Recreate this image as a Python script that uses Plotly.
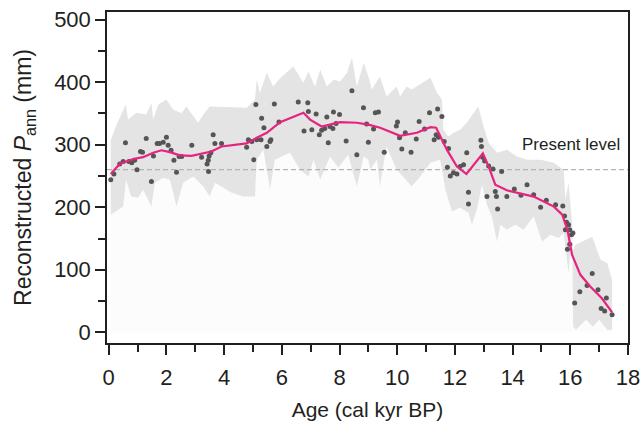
import plotly.graph_objects as go

# Scatter samples (age kyr BP, reconstructed Pann mm)
pt_age = [0.07,0.18,0.38,0.50,0.58,0.70,0.80,0.90,0.98,1.10,1.17,1.30,1.48,1.55,1.68,1.76,1.89,2.00,2.06,2.16,
          2.26,2.35,2.44,2.53,2.88,3.22,3.41,3.45,3.48,3.46,3.54,3.62,3.68,3.91,4.78,4.84,4.96,5.03,5.10,5.13,
          5.28,5.30,5.38,5.48,5.59,5.62,5.74,5.90,6.57,6.77,6.90,6.92,7.04,7.19,7.30,7.38,7.49,7.56,7.61,7.67,
          7.77,7.79,7.88,8.00,8.23,8.43,8.60,8.83,8.94,9.00,9.18,9.24,9.35,9.55,9.97,10.01,10.08,10.16,10.28,10.48,
          10.66,10.76,10.95,11.12,11.28,11.35,11.40,11.43,11.55,11.63,11.74,11.78,11.84,11.95,12.07,12.18,12.30,12.41,12.47,12.47,
          12.90,12.92,12.96,13.03,13.11,13.17,13.32,13.40,13.44,13.48,13.62,13.80,14.06,14.29,14.50,14.73,14.97,15.17,15.49,15.74,
          15.80,15.87,15.94,15.83,15.98,16.04,16.09,15.90,15.98,16.15,16.33,16.58,16.76,16.96,17.07,17.19,17.25,17.45]
pt_pann = [244,253,269,273,303,273,271,275,260,289,288,310,241,282,302,302,304,312,299,291,
           275,256,281,281,299,280,269,275,282,257,287,316,302,302,296,308,305,276,364,308,
           308,342,327,297,305,308,365,336,368,322,367,353,324,349,316,323,326,344,303,329,
           326,352,334,348,306,386,284,359,333,304,325,351,352,288,330,336,311,293,319,288,
           309,337,325,351,308,316,357,312,345,305,264,294,250,255,253,265,268,287,224,205,
           307,297,280,274,217,266,261,225,217,197,257,217,229,219,236,220,200,211,204,202,
           186,176,172,164,164,156,159,133,141,47,65,75,94,68,38,34,55,28]

# Smoothed curve
fit_age = [0.07,0.38,0.85,1.19,1.54,1.83,2.12,2.47,2.87,3.22,3.56,3.91,4.78,5.13,5.48,5.94,6.40,6.75,6.98,7.09,
           7.38,8.02,8.60,9.00,9.41,10.10,10.68,11.15,11.35,11.72,12.07,12.40,12.72,12.97,13.17,13.40,13.80,14.73,15.43,15.72,
           15.90,16.06,16.35,16.70,17.10,17.45]
fit_pann = [253,269,277,280,287,291,288,283,282,285,289,297,302,311,319,336,345,351,340,337,
            329,336,335,332,327,314,319,328,327,292,265,253,271,286,265,236,227,217,201,188,
            164,124,92,73,54,32]

# Uncertainty band
up_age = [0.07,0.27,0.59,0.67,0.96,1.30,1.48,1.54,1.72,2.00,2.23,2.52,2.69,3.10,3.28,3.50,4.78,5.07,5.13,5.24,
          5.48,5.70,5.94,6.40,6.75,6.92,7.15,7.33,7.56,7.80,8.02,8.26,8.43,8.60,8.84,9.00,9.12,9.40,9.63,9.98,
          10.10,10.33,10.50,10.85,11.15,11.38,11.55,11.60,11.77,11.95,12.18,12.41,12.64,12.81,12.99,13.17,13.46,13.80,14.15,14.50,
          14.97,15.43,15.77,15.83,15.94,16.06,16.10,16.18,16.76,17.05,17.28,17.45]
up_pann = [307,332,364,340,351,348,366,340,364,372,356,350,361,335,348,361,359,372,404,383,
           415,393,406,425,399,417,393,420,393,404,401,415,439,393,431,409,388,409,377,393,
           377,393,388,399,407,383,372,324,313,319,324,335,351,361,329,303,287,292,281,276,
           276,271,260,212,239,175,132,140,153,116,111,84]
lo_age = [0.07,0.50,0.60,0.78,1.02,1.19,1.37,1.48,1.60,1.89,2.12,2.35,2.58,2.93,3.28,3.50,3.68,3.97,4.26,4.66,
          5.07,5.13,5.36,5.59,5.76,5.94,6.28,6.63,6.92,7.10,7.33,7.67,7.96,8.30,8.60,8.84,9.00,9.06,9.30,9.40,
          9.63,9.98,10.20,10.50,10.80,11.15,11.49,11.67,11.77,11.90,12.18,12.47,12.59,12.76,12.94,13.11,13.28,13.46,13.58,13.80,
          14.10,14.38,14.73,15.02,15.31,15.60,15.77,15.94,16.06,16.10,16.20,16.55,16.78,17.00,17.28,17.45]
lo_pann = [188,201,244,217,215,228,212,201,239,247,244,201,239,249,233,217,239,231,223,217,
           217,276,292,228,276,279,287,260,249,276,244,281,263,284,233,281,276,260,276,233,
           297,260,249,233,249,271,276,228,215,193,199,191,172,196,236,204,185,145,172,164,
           172,164,185,145,156,151,159,95,164,9,4,20,9,20,4,4]

present_level = 260
x_ticks = [0, 2, 4, 6, 8, 10, 12, 14, 16, 18]
y_ticks = [0, 100, 200, 300, 400, 500]

ink = "#231f20"
font_fam = "Liberation Sans, Arial"
fig = go.Figure()

fig.add_trace(go.Scatter(x=lo_age, y=lo_pann, mode="lines", line=dict(width=0),
                         fill="tozeroy", fillcolor="#fcfcfc", hoverinfo="skip", showlegend=False))
fig.add_trace(go.Scatter(x=up_age + lo_age[::-1], y=up_pann + lo_pann[::-1], mode="lines",
                         line=dict(width=0), fill="toself", fillcolor="#e4e4e4",
                         hoverinfo="skip", showlegend=False))
fig.add_trace(go.Scatter(x=[-0.06, 18], y=[present_level, present_level], mode="lines",
                         line=dict(color="#b3b3b3", width=1.2, dash="5px,3px"), showlegend=False))
fig.add_trace(go.Scatter(x=pt_age, y=pt_pann, mode="markers",
                         marker=dict(color="#555555", size=5), showlegend=False))
fig.add_trace(go.Scatter(x=fit_age, y=fit_pann, mode="lines",
                         line=dict(color="#e8237f", width=2.2), showlegend=False))

fig.add_annotation(x=17.8, y=300, text="Present level", showarrow=False, xanchor="right",
                   yanchor="middle", font=dict(family=font_fam, size=17, color=ink))

axis_common = dict(showline=True, mirror=True, linecolor=ink, linewidth=1.5, ticks="outside",
                   ticklen=10, tickwidth=1.5, tickcolor=ink, showgrid=False, zeroline=False,
                   automargin=False,
                   tickfont=dict(family=font_fam, size=22, color=ink))

fig.update_xaxes(range=[-0.06, 18], tickvals=x_ticks, ticktext=[str(v) for v in x_ticks],
                 ticklabelstandoff=4,
                 minor=dict(dtick=1, tick0=0, ticks="outside", ticklen=7, tickwidth=1.5, tickcolor=ink),
                 title=dict(text="Age (cal kyr BP)", font=dict(family=font_fam, size=21, color=ink), standoff=13),
                 **axis_common)
fig.update_yaxes(range=[-17, 512], tickvals=y_ticks, ticktext=[str(v) for v in y_ticks],
                 minor=dict(dtick=50, tick0=0, ticks="outside", ticklen=7, tickwidth=1.5, tickcolor=ink),
                 title=dict(text="Reconstructed <i>P</i><sub>ann</sub> (mm)",
                            font=dict(family=font_fam, size=23, color=ink), standoff=16),
                 **axis_common)

fig.update_layout(width=642, height=423, margin=dict(l=107, r=14, t=12, b=80),
                  plot_bgcolor="white", paper_bgcolor="white", showlegend=False)

fig.write_html("out.html", config={"displayModeBar": False},
               post_script="document.body.style.margin='0';")
